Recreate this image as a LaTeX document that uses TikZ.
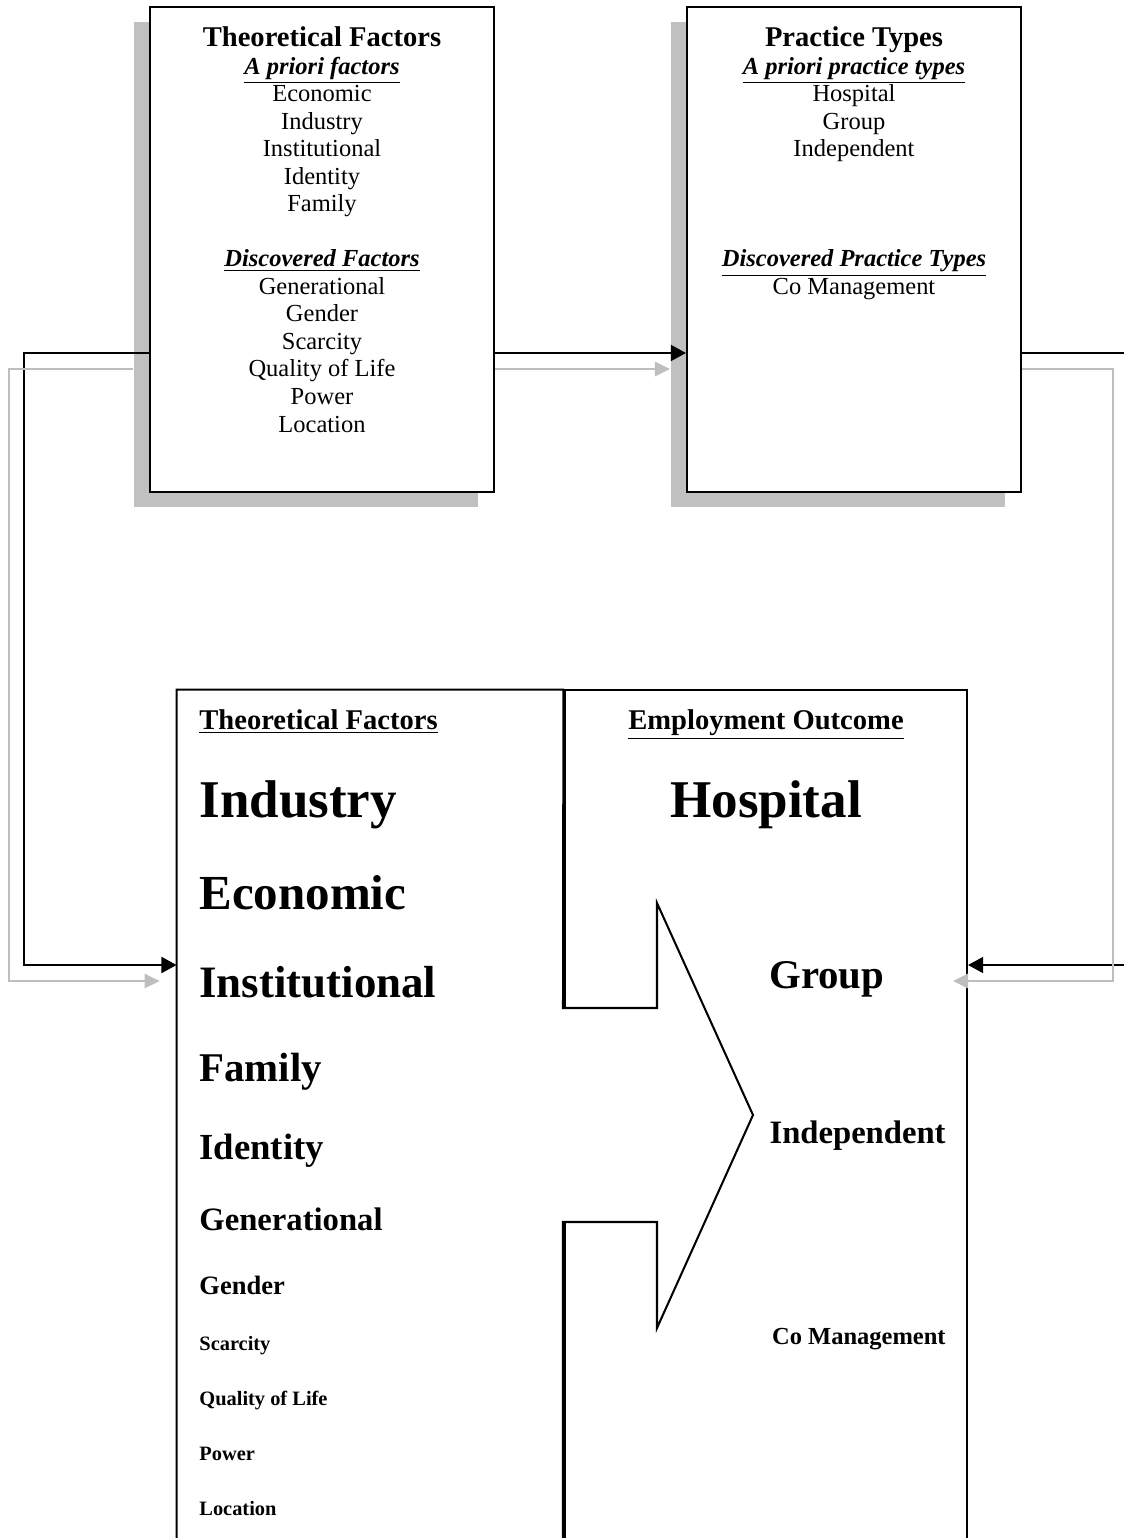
\documentclass[tikz,border=0pt]{standalone}
\usepackage{fontspec}
\setmainfont{Liberation Serif}
\usepackage{xcolor}
\usepackage{tikz}
\usetikzlibrary{arrows.meta,positioning,fit,shadows}

\definecolor{shadowgray}{RGB}{192,192,192}
\definecolor{linkgray}{RGB}{190,190,190}

\newcommand\ptsize[1]{\fontsize{#1}{#1}\selectfont}

\tikzset{
  factorbox/.style={draw, line width=1pt, fill=white, inner sep=0pt},
  boxshadow/.style={general shadow={fill=shadowgray, shadow xshift=-7.8pt, shadow yshift=-7.35pt}},
  txt/.style={inner sep=0pt},
  blacklink/.style={line width=1pt, -{Triangle[length=7.4pt,width=7.8pt]}},
  graylink/.style={line width=1pt, linkgray, -{Triangle[length=7.4pt,width=7pt]}}
}

\begin{document}
\begin{tikzpicture}[x=0.49pt, y=-0.49pt]
  \useasboundingbox (0,0) rectangle (1123,1538);

  % the two upper boxes
  \node[factorbox, boxshadow, fit={(150,7) (494,492)}] (theo) {};
  \node[factorbox, boxshadow, fit={(687,7) (1021,492)}] (prac) {};

  \node[txt, anchor=base, font={\ptsize{14}\bfseries}] (theotitle) at (322,47) {Theoretical Factors};
  \node[txt, anchor=base, font={\ptsize{12}\bfseries\itshape}] (theoapriori) at (322,74.5) {\underline{A priori factors}};
  \node[txt, anchor=base, font=\ptsize{12}] (theoecon) at (322,102) {Economic};
  \node[txt, anchor=base, font=\ptsize{12}] (theoind) at (322,129.5) {Industry};
  \node[txt, anchor=base, font=\ptsize{12}] (theoinst) at (322,157) {Institutional};
  \node[txt, anchor=base, font=\ptsize{12}] (theoident) at (322,184.5) {Identity};
  \node[txt, anchor=base, font=\ptsize{12}] (theofam) at (322,212) {Family};
  \node[txt, anchor=base, font={\ptsize{12}\bfseries\itshape}] (theodisc) at (322,267) {\underline{Discovered Factors}};
  \node[txt, anchor=base, font=\ptsize{12}] (theogen) at (322,294.5) {Generational};
  \node[txt, anchor=base, font=\ptsize{12}] (theogend) at (322,322) {Gender};
  \node[txt, anchor=base, font=\ptsize{12}] (theoscar) at (322,349.5) {Scarcity};
  \node[txt, anchor=base, font=\ptsize{12}] (theoqual) at (322,377) {Quality of Life};
  \node[txt, anchor=base, font=\ptsize{12}] (theopow) at (322,404.5) {Power};
  \node[txt, anchor=base, font=\ptsize{12}] (theoloc) at (322,432) {Location};

  \node[txt, anchor=base, font={\ptsize{14}\bfseries}] (practitle) at (854,47) {Practice Types};
  \node[txt, anchor=base, font={\ptsize{12}\bfseries\itshape}] (pracapriori) at (854,74.5) {\underline{A priori practice types}};
  \node[txt, anchor=base, font=\ptsize{12}] (prachosp) at (854,102) {Hospital};
  \node[txt, anchor=base, font=\ptsize{12}] (pracgroup) at (854,129.5) {Group};
  \node[txt, anchor=base, font=\ptsize{12}] (pracindep) at (854,157) {Independent};
  \node[txt, anchor=base, font={\ptsize{12}\bfseries\itshape}] (pracdisc) at (854,267) {\underline{Discovered Practice Types}};
  \node[txt, anchor=base, font=\ptsize{12}] (praccoman) at (854,294.5) {Co Management};

  % the lower boxes, the left one with its arrow into the right one
  \node[factorbox, fit={(565,690) (967,1560)}] (outbox) {};
  \node[inner sep=0pt, fit={(177,690) (563,1560)}] (tfbox) {};
  \draw[factorbox] (tfbox.south west) -- (tfbox.north west) -- (tfbox.north east)
    -- (563,1008) -- (657,1008) -- (657,903) -- (753,1115) -- (657,1328)
    -- (657,1222) -- (563,1222) -- (563,1560);

  \node[txt, anchor=base west, font={\ptsize{14}\bfseries}] (tftitle) at (199,729) {\underline{Theoretical Factors}};
  \node[txt, anchor=base west, font={\ptsize{26}\bfseries}] (tfind) at (199,817) {Industry};
  \node[txt, anchor=base west, font={\ptsize{24}\bfseries}] (tfecon) at (199,909) {Economic};
  \node[txt, anchor=base west, font={\ptsize{22}\bfseries}] (tfinst) at (199,997) {Institutional};
  \node[txt, anchor=base west, font={\ptsize{20}\bfseries}] (tffam) at (199,1081) {Family};
  \node[txt, anchor=base west, font={\ptsize{18}\bfseries}] (tfident) at (199,1159) {Identity};
  \node[txt, anchor=base west, font={\ptsize{16}\bfseries}] (tfgen) at (199,1230) {Generational};
  \node[txt, anchor=base west, font={\ptsize{13}\bfseries}] (tfgend) at (199,1294) {Gender};
  \node[txt, anchor=base west, font={\ptsize{10}\bfseries}] (tfscar) at (199,1350) {Scarcity};
  \node[txt, anchor=base west, font={\ptsize{10}\bfseries}] (tfqual) at (199,1405) {Quality of Life};
  \node[txt, anchor=base west, font={\ptsize{10}\bfseries}] (tfpow) at (199,1460) {Power};
  \node[txt, anchor=base west, font={\ptsize{10}\bfseries}] (tfloc) at (199,1515) {Location};

  \node[txt, anchor=base, font={\ptsize{14}\bfseries}] (outtitle) at (766,729) {\underline{Employment Outcome}};
  \node[txt, anchor=base, font={\ptsize{26}\bfseries}] (outhosp) at (766,817) {Hospital};
  \node[txt, anchor=base west, font={\ptsize{20}\bfseries}] (outgroup) at (769,988) {Group};
  \node[txt, anchor=base east, font={\ptsize{16}\bfseries}] (outindep) at (946,1143) {Independent};
  \node[txt, anchor=base east, font={\ptsize{12}\bfseries}] (outcoman) at (946,1344) {Co Management};

  % connectors
  \coordinate (upper1) at (0,353);
  \coordinate (upper2) at (0,369);
  \coordinate (lower1) at (0,965);
  \coordinate (lower2) at (0,981);

  \draw[blacklink] (theo.east |- upper1) -- (prac.west |- upper1);
  \draw[graylink] (theo.east |- upper2) -- ([xshift=-7.8pt]prac.west |- upper2);

  \draw[blacklink] (theo.west |- upper1) -- ++(-125,0) |- (tfbox.west |- lower1);
  \draw[graylink] ([xshift=-7.8pt]theo.west |- upper2) -- ++(-124,0) |- ([xshift=-8.3pt]tfbox.west |- lower2);

  \draw[blacklink] (prac.east |- upper1) -- ++(104,0) |- (outbox.east |- lower1);
  \draw[graylink] (prac.east |- upper2) -- ++(91,0) |- ([xshift=-7.4pt]outbox.east |- lower2);

\end{tikzpicture}
\end{document}
